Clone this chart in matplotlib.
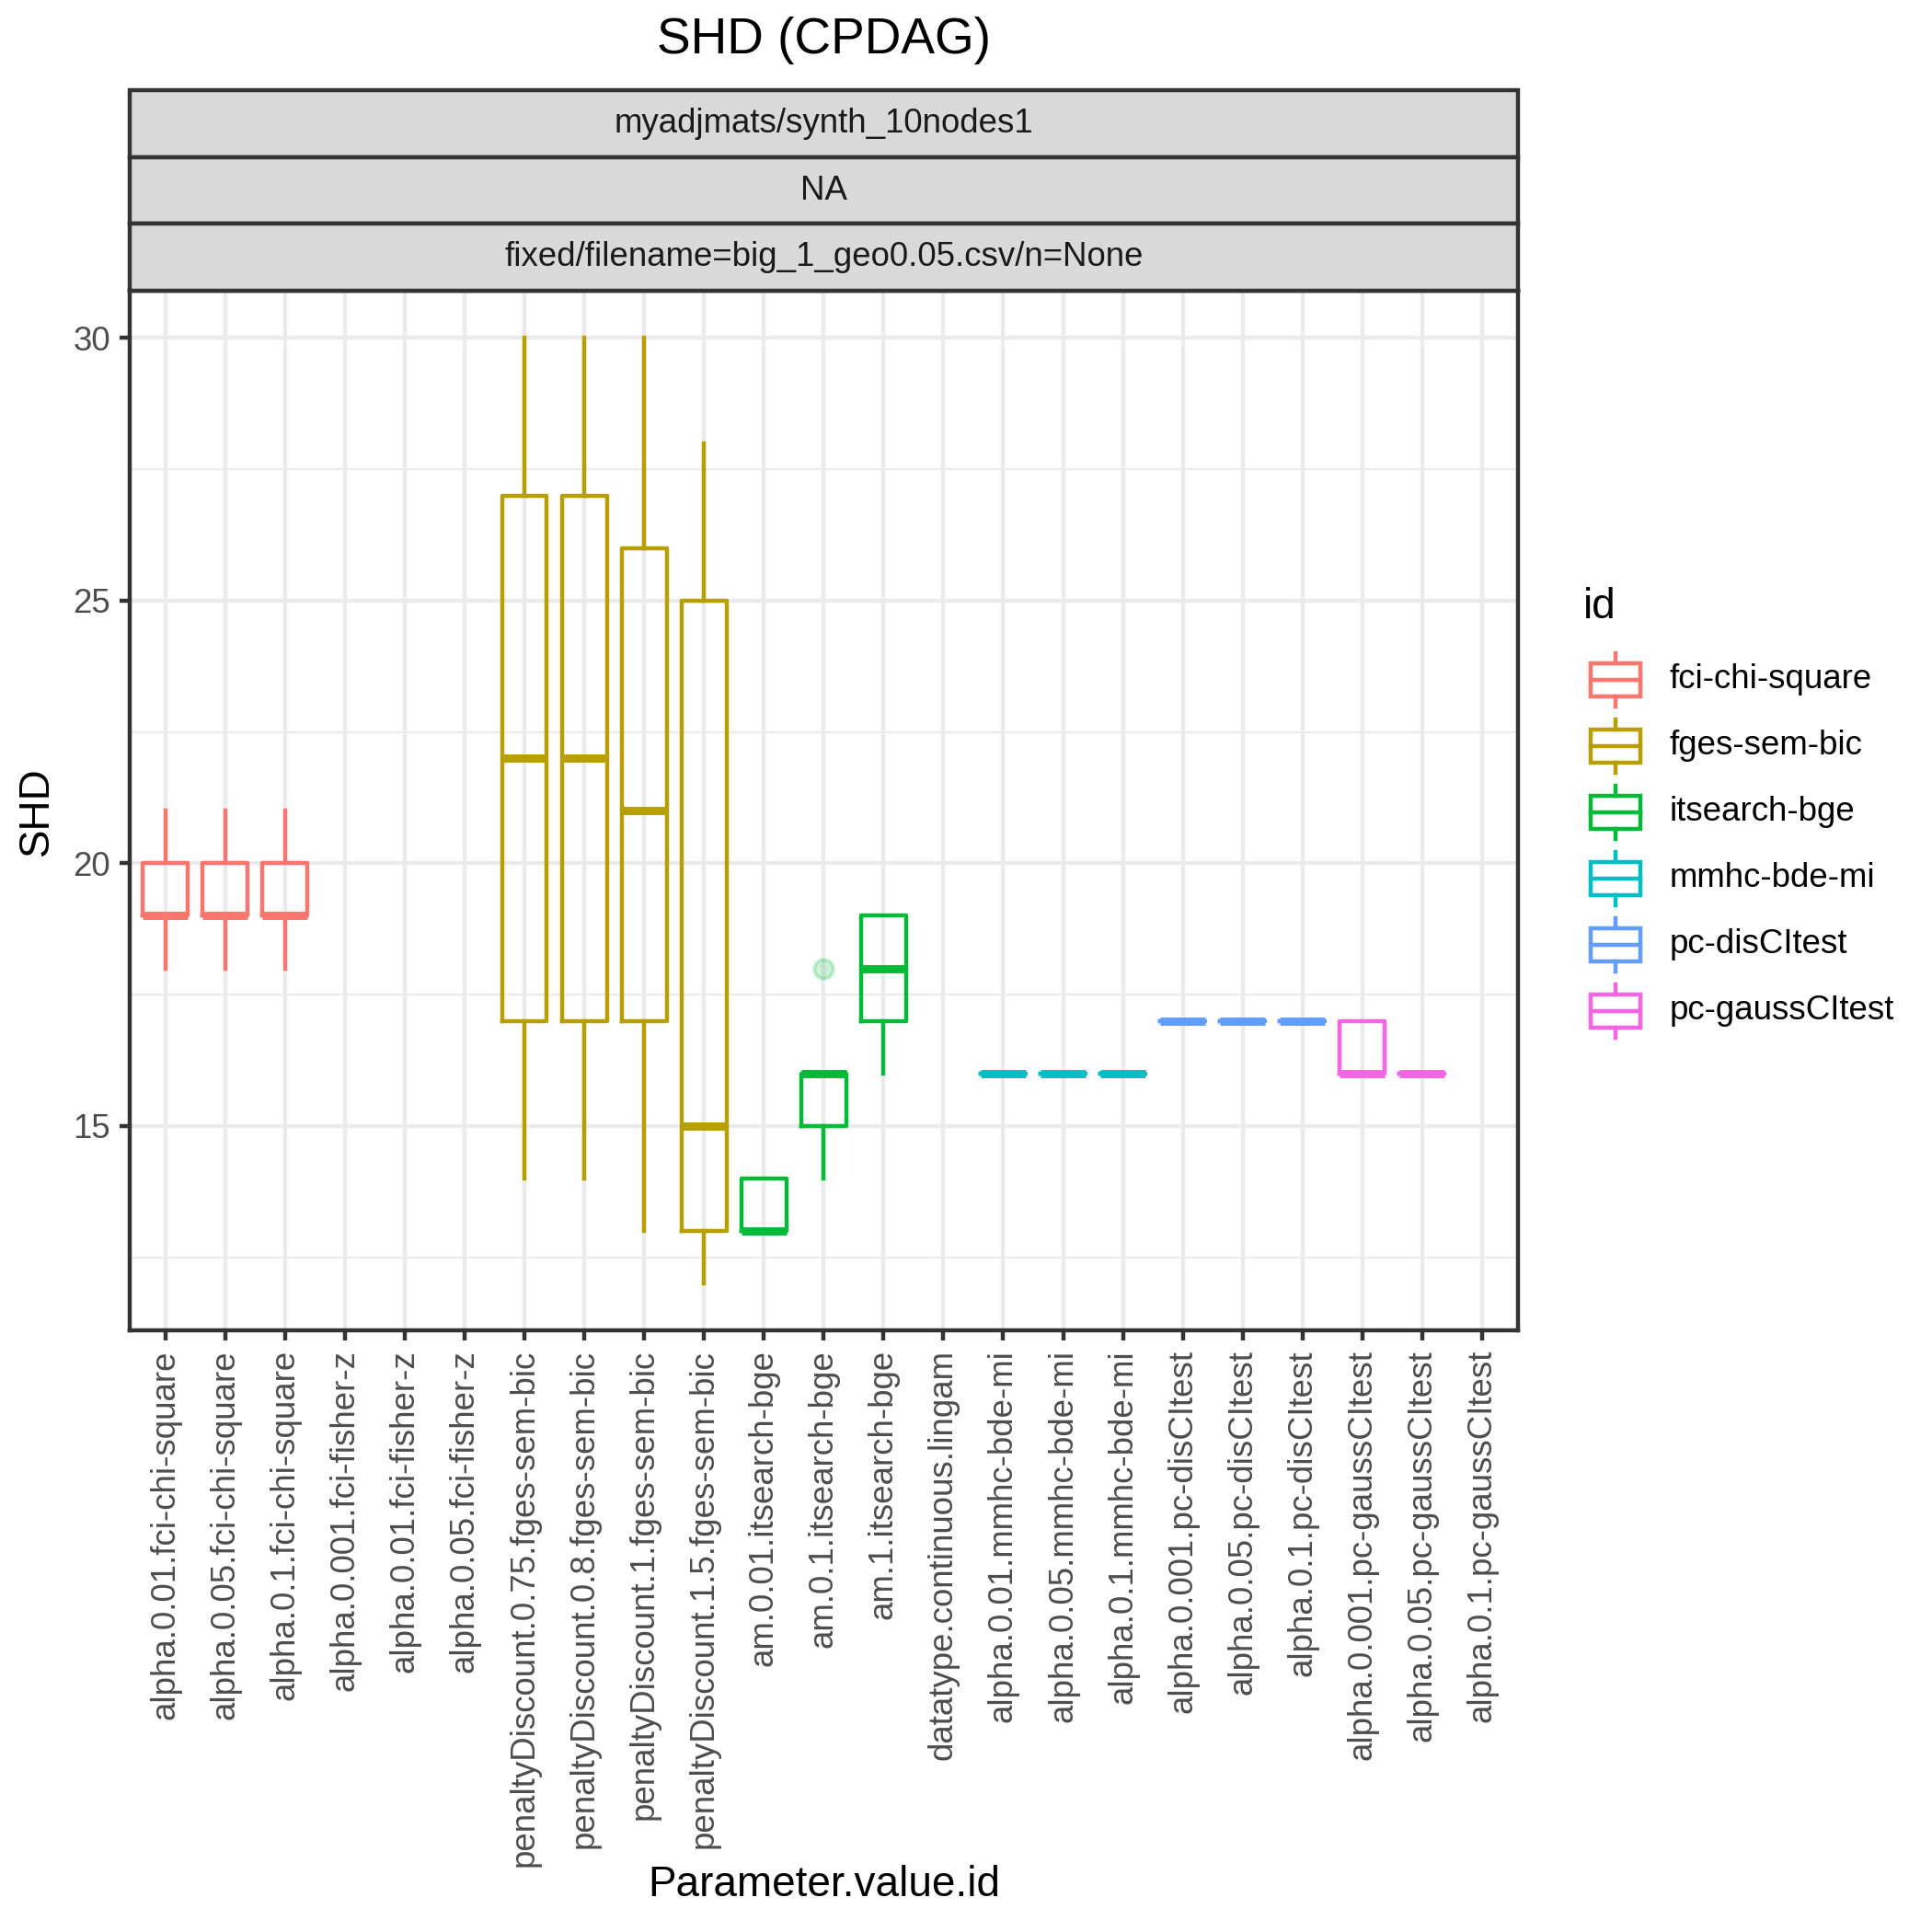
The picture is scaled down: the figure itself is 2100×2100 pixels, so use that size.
import matplotlib
matplotlib.use("Agg")
import matplotlib.pyplot as plt
from matplotlib.patches import Rectangle

plt.rcParams['font.family'] = ['Liberation Sans', 'DejaVu Sans']

# categories on the x axis and the method id of each one
labels = ['alpha.0.01.fci-chi-square', 'alpha.0.05.fci-chi-square', 'alpha.0.1.fci-chi-square',
          'alpha.0.001.fci-fisher-z', 'alpha.0.01.fci-fisher-z', 'alpha.0.05.fci-fisher-z',
          'penaltyDiscount.0.75.fges-sem-bic', 'penaltyDiscount.0.8.fges-sem-bic',
          'penaltyDiscount.1.fges-sem-bic', 'penaltyDiscount.1.5.fges-sem-bic',
          'am.0.01.itsearch-bge', 'am.0.1.itsearch-bge', 'am.1.itsearch-bge',
          'datatype.continuous.lingam',
          'alpha.0.01.mmhc-bde-mi', 'alpha.0.05.mmhc-bde-mi', 'alpha.0.1.mmhc-bde-mi',
          'alpha.0.001.pc-disCItest', 'alpha.0.05.pc-disCItest', 'alpha.0.1.pc-disCItest',
          'alpha.0.001.pc-gaussCItest', 'alpha.0.05.pc-gaussCItest', 'alpha.0.1.pc-gaussCItest']
ids = ['fci-chi-square'] * 3 + [None] * 3 + ['fges-sem-bic'] * 4 + ['itsearch-bge'] * 3 + [None] \
      + ['mmhc-bde-mi'] * 3 + ['pc-disCItest'] * 3 + ['pc-gaussCItest'] * 2 + [None]

# box statistics (None = no data)
whislo = [18, 18, 18, None, None, None, 14, 14, 13, 12, 13, 14, 16, None, 16, 16, 16, 17, 17, 17, 16, 16, None]
q1     = [19, 19, 19, None, None, None, 17, 17, 17, 13, 13, 15, 17, None, 16, 16, 16, 17, 17, 17, 16, 16, None]
med    = [19, 19, 19, None, None, None, 22, 22, 21, 15, 13, 16, 18, None, 16, 16, 16, 17, 17, 17, 16, 16, None]
q3     = [20, 20, 20, None, None, None, 27, 27, 26, 25, 14, 16, 19, None, 16, 16, 16, 17, 17, 17, 17, 16, None]
whishi = [21, 21, 21, None, None, None, 30, 30, 30, 28, 14, 16, 19, None, 16, 16, 16, 17, 17, 17, 17, 16, None]
fliers = [[], [], [], [], [], [], [], [], [], [], [], [18], [], [], [], [], [], [], [], [], [], [], []]

legend_ids = ['fci-chi-square', 'fges-sem-bic', 'itsearch-bge', 'mmhc-bde-mi', 'pc-disCItest', 'pc-gaussCItest']
colors = ['#F8766D', '#B79F00', '#00BA38', '#00BFC4', '#619CFF', '#F564E3']
strips = ['myadjmats/synth_10nodes1', 'NA', 'fixed/filename=big_1_geo0.05.csv/n=None']

lw = 1.07
left, bottom, width, height = 0.0670, 0.3112, 0.7187, 0.5383
fig = plt.figure(figsize=(7, 7), dpi=300)
ax = fig.add_axes([left, bottom, width, height])

for name, col in zip(legend_ids, colors):
    stats, pos = [], []
    for i in range(len(labels)):
        if ids[i] == name and med[i] is not None:
            stats.append(dict(whislo=whislo[i], q1=q1[i], med=med[i], q3=q3[i],
                              whishi=whishi[i], fliers=fliers[i]))
            pos.append(i + 1)
    ax.bxp(stats, positions=pos, widths=0.75, showcaps=False,
           boxprops=dict(color=col, linewidth=lw),
           whiskerprops=dict(color=col, linewidth=lw),
           medianprops=dict(color=col, linewidth=lw * 2, solid_capstyle='butt'),
           flierprops=dict(marker='o', markerfacecolor=col, markeredgecolor=col,
                           markersize=5, alpha=0.2),
           manage_ticks=False, zorder=3)

ax.set_xlim(0.4, len(labels) + 0.6)
ax.set_ylim(11.1, 30.9)
ax.set_xticks(range(1, len(labels) + 1))
ax.set_xticklabels(labels, rotation=90, fontsize=8.8, color='#4D4D4D', ha='center', va='top')
ax.set_yticks([15, 20, 25, 30])
ax.set_yticks([12.5, 17.5, 22.5, 27.5], minor=True)
ax.tick_params(axis='y', which='minor', length=0)
ax.tick_params(which='major', length=2.75, width=lw, color='#333333', labelsize=8.8,
               labelcolor='#4D4D4D', pad=2.2)
ax.grid(which='major', color='#EBEBEB', linewidth=lw, zorder=0)
ax.grid(which='minor', axis='y', color='#EBEBEB', linewidth=lw / 2, zorder=0)
ax.set_axisbelow(True)
for s in ax.spines.values():
    s.set_color('#333333')
    s.set_linewidth(lw)

cx = left + width / 2
fig.text(cx, 0.0242, 'Parameter.value.id', fontsize=11, ha='center', va='center')
fig.text(0.019, bottom + height / 2, 'SHD', fontsize=11, ha='center', va='center', rotation=90)

# facet strips
strip_h = 0.0346
for k, txt in enumerate(strips):
    y0 = bottom + height + (len(strips) - 1 - k) * strip_h
    fig.patches.append(Rectangle((left, y0), width, strip_h, transform=fig.transFigure,
                                 facecolor='#D9D9D9', edgecolor='#333333', linewidth=lw))
    fig.text(cx, y0 + strip_h / 2, txt, fontsize=8.8, color='#1A1A1A',
             ha='center', va='center')

fig.text(cx, 0.979, 'SHD (CPDAG)', fontsize=13.2, ha='center', va='center')

# legend drawn by hand with boxplot keys
lax = fig.add_axes([0.819, 0.4595, 0.0343, 0.2057])
lax.set_xlim(0, 1)
lax.set_ylim(len(legend_ids), 0)
lax.axis('off')
for k, (name, col) in enumerate(zip(legend_ids, colors)):
    top = k
    lax.add_patch(Rectangle((0.125, top + 0.25), 0.75, 0.5, facecolor='white',
                            edgecolor=col, linewidth=lw))
    lax.plot([0.125, 0.875], [top + 0.5, top + 0.5], color=col, linewidth=lw)
    lax.plot([0.5, 0.5], [top + 0.1, top + 0.25], color=col, linewidth=lw)
    lax.plot([0.5, 0.5], [top + 0.75, top + 0.9], color=col, linewidth=lw)
    fig.text(0.8642, 1 - (739 + k * 72) / 2100, name, fontsize=8.8, ha='left', va='center')
fig.text(0.8195, 1 - 660 / 2100, 'id', fontsize=11, ha='left', va='center')

fig.savefig('out.png', dpi=300)
